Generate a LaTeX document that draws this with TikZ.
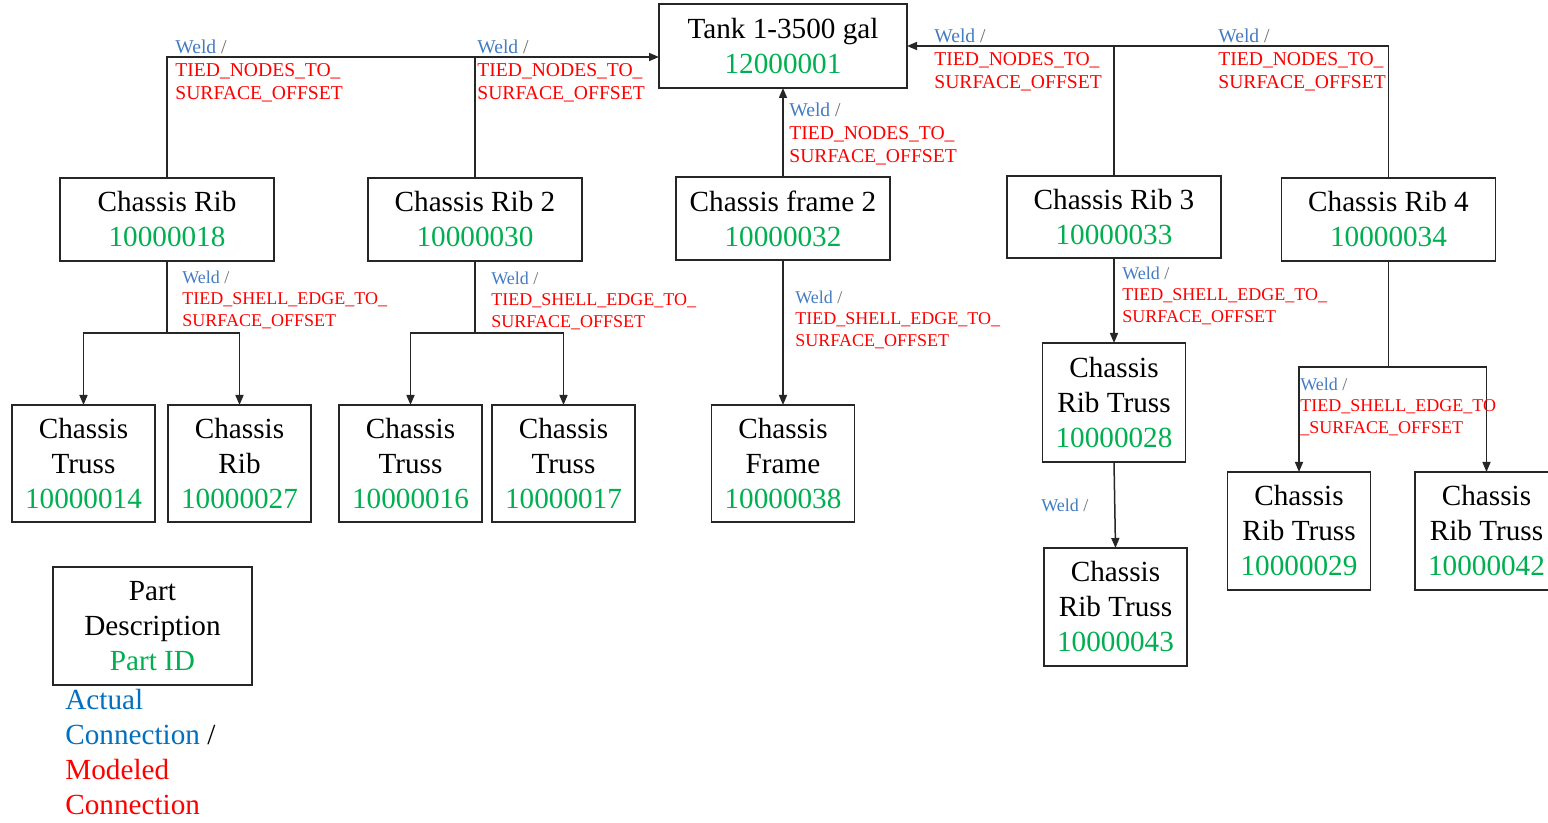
\documentclass[tikz,border=0pt]{standalone}
\usepackage{fontspec}
\setmainfont{Liberation Serif}
\usetikzlibrary{arrows.meta}
\definecolor{idgreen}{RGB}{0,176,80}
\definecolor{weldblue}{RGB}{68,124,196}
\definecolor{legblue}{RGB}{0,112,192}
\definecolor{modred}{RGB}{255,0,0}
\definecolor{slashgray}{RGB}{110,110,120}
\newcommand{\partid}[1]{\textcolor{idgreen}{#1}}
\newcommand{\weldtag}{\textcolor{weldblue}{Weld} \textcolor{slashgray}{/}}
\newcommand{\red}[1]{\textcolor{modred}{#1}}
\begin{document}
\begin{tikzpicture}[x=0.5pt,y=-0.5pt,
  box/.style={draw=black!85, line width=0.8pt, align=center, inner sep=0pt, outer sep=0pt, font=\fontsize{14.6}{17.5}\selectfont},
  wide/.style={box, minimum width=107pt, minimum height=41.5pt},
  tall/.style={box, minimum width=71.5pt, minimum height=58.5pt},
  conn/.style={line width=0.75pt, draw=black!85},
  arr/.style={conn, -{Triangle[length=5pt,width=4pt]}},
  lblA/.style={anchor=north west, align=left, inner sep=0pt, font=\fontsize{9.8}{11.5}\selectfont},
  lblB/.style={anchor=north west, align=left, inner sep=0pt, font=\fontsize{9}{10.7}\selectfont},
]
\useasboundingbox (0,0) rectangle (1548,823);
\fill[white] (0,0) rectangle (1548,823);

% boxes
\node[box, minimum width=124pt, minimum height=42pt] (tank) at (783,46) {Tank 1-3500 gal\\\partid{12000001}};
\node[wide] (rib1) at (167,219.5) {Chassis Rib\\\partid{10000018}};
\node[wide] (rib2) at (475,219.5) {Chassis Rib 2\\\partid{10000030}};
\node[wide] (fr2) at (783,218.5) {Chassis frame 2\\\partid{10000032}};
\node[wide, minimum height=41pt] (rib3) at (1114,217) {Chassis Rib 3\\\partid{10000033}};
\node[wide] (rib4) at (1388.5,219.5) {Chassis Rib 4\\\partid{10000034}};
\node[tall] (t14) at (83.5,463.5) {Chassis\\Truss\\\partid{10000014}};
\node[tall] (r27) at (239.5,463.5) {Chassis\\Rib\\\partid{10000027}};
\node[tall] (t16) at (410.5,463.5) {Chassis\\Truss\\\partid{10000016}};
\node[tall] (t17) at (563.5,463.5) {Chassis\\Truss\\\partid{10000017}};
\node[tall] (f38) at (783,463.5) {Chassis\\Frame\\\partid{10000038}};
\node[tall, minimum height=59.5pt] (rt28) at (1114,402.5) {Chassis\\Rib Truss\\\partid{10000028}};
\node[tall, minimum height=59pt] (rt43) at (1115.5,607) {Chassis\\Rib Truss\\\partid{10000043}};
\node[tall, minimum height=59pt] (rt29) at (1299,531) {Chassis\\Rib Truss\\\partid{10000029}};
\node[tall, minimum height=59pt] (rt42) at (1486.5,531) {Chassis\\Rib Truss\\\partid{10000042}};
\node[box, minimum width=99.5pt, minimum height=59pt] (leg) at (152.5,626) {Part\\Description\\\partid{Part ID}};
\node[anchor=north west, align=left, inner sep=0pt, font=\fontsize{14.6}{17.5}\selectfont] (legtxt) at (65,689)
  {\textcolor{legblue}{Actual}\\\textcolor{legblue}{Connection} /\\\red{Modeled}\\\red{Connection}};

% connectors to tank
\coordinate (tkL) at ([yshift=-5.5pt]tank.west);
\draw[arr] (rib1.north) |- (tkL);
\draw[conn] (rib2.north) -- (rib2.north |- tkL);
\draw[arr] (rib4.north) |- (tank.east);
\draw[conn] (rib3.north) -- (rib3.north |- tank.east);
\draw[arr] (fr2.north) -- (tank.south);

% lower connectors
\draw[conn] (rib1.south) -- ++(0,72) coordinate (b1);
\draw[arr] (b1) -| (t14.north);
\draw[arr] (b1) -| (r27.north);
\draw[conn] (rib2.south) -- ++(0,72) coordinate (b2);
\draw[arr] (b2) -| (t16.north);
\draw[arr] (b2) -| (t17.north);
\draw[arr] (fr2.south) -- (f38.north);
\draw[arr] (rib3.south) -- (rt28.north);
\draw[arr] (rt28.south) -- (rt43.north);
\draw[conn] (rib4.south) -- ++(0,106) coordinate (b4);
\draw[arr] (b4) -| (rt29.north);
\draw[arr] (b4) -| (rt42.north);

% labels
\node[lblA] (l1) at (175,40) {\weldtag\\\red{TIED\_NODES\_TO\_}\\\red{SURFACE\_OFFSET}};
\node[lblA] (l2) at (477,40) {\weldtag\\\red{TIED\_NODES\_TO\_}\\\red{SURFACE\_OFFSET}};
\node[lblA] (l3) at (789,103) {\weldtag\\\red{TIED\_NODES\_TO\_}\\\red{SURFACE\_OFFSET}};
\node[lblA] (l4) at (934,29) {\weldtag\\\red{TIED\_NODES\_TO\_}\\\red{SURFACE\_OFFSET}};
\node[lblA] (l5) at (1218,29) {\weldtag\\\red{TIED\_NODES\_TO\_}\\\red{SURFACE\_OFFSET}};
\node[lblB] (l6) at (182,270.5) {\weldtag\\\red{TIED\_SHELL\_EDGE\_TO\_}\\\red{SURFACE\_OFFSET}};
\node[lblB] (l7) at (491,271.5) {\weldtag\\\red{TIED\_SHELL\_EDGE\_TO\_}\\\red{SURFACE\_OFFSET}};
\node[lblB] (l8) at (795,290.5) {\weldtag\\\red{TIED\_SHELL\_EDGE\_TO\_}\\\red{SURFACE\_OFFSET}};
\node[lblB] (l9) at (1122,266.5) {\weldtag\\\red{TIED\_SHELL\_EDGE\_TO\_}\\\red{SURFACE\_OFFSET}};
\node[lblB] (l10) at (1300,377.5) {\weldtag\\\red{TIED\_SHELL\_EDGE\_TO}\\\red{\_SURFACE\_OFFSET}};
\node[lblB] (l11) at (1041,498.5) {\weldtag};
\end{tikzpicture}
\end{document}
